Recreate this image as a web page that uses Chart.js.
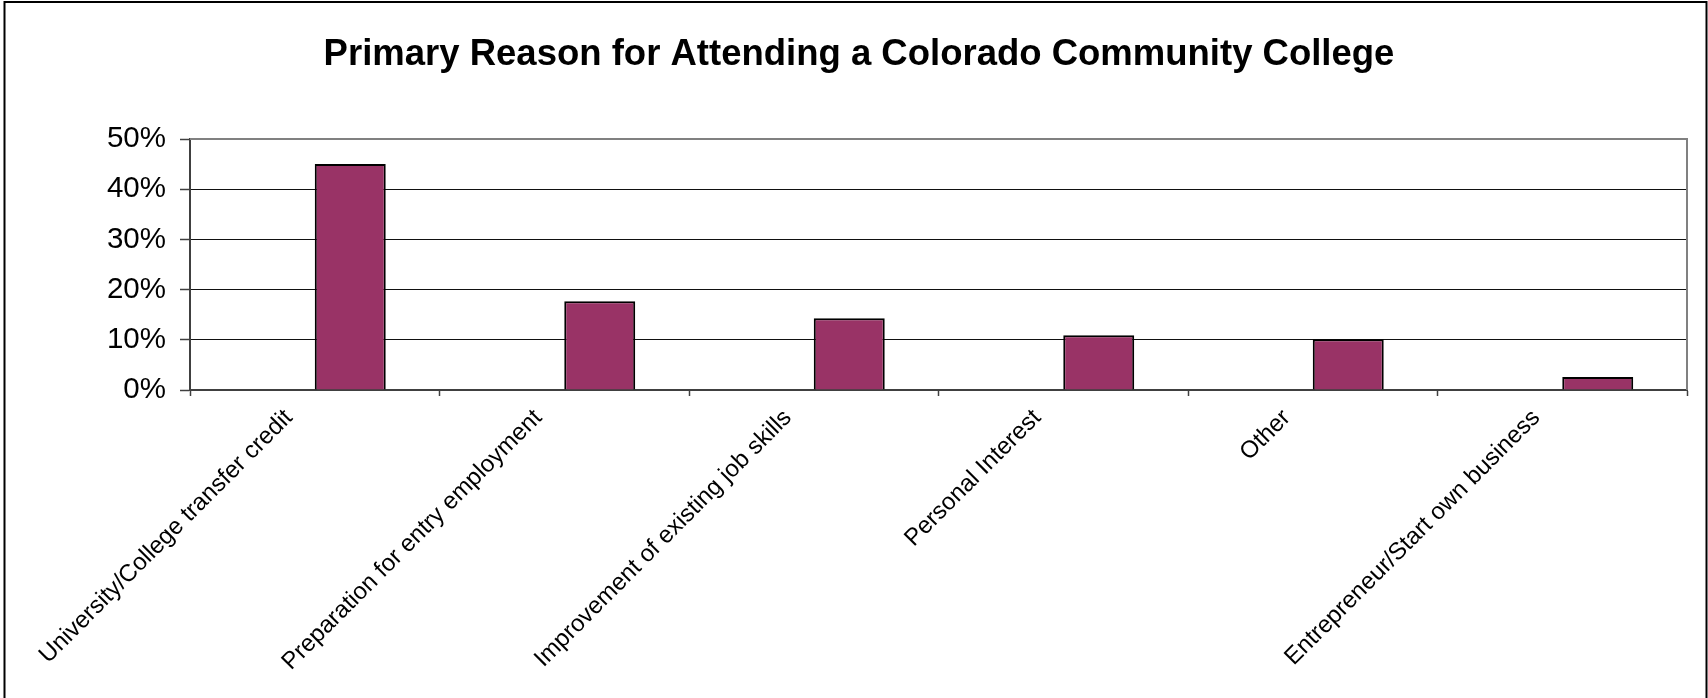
<!DOCTYPE html>
<html>
<head>
<meta charset="utf-8">
<title>Primary Reason for Attending a Colorado Community College</title>
<script src="https://cdn.jsdelivr.net/npm/chart.js@4/dist/chart.umd.min.js"></script>
<style>
  html, body { margin: 0; padding: 0; background: #ffffff; }
  canvas { display: block; }
</style>
</head>
<body>
<canvas id="chart" width="1708" height="698"></canvas>
<script>
// Survey categories and the share of students choosing each one (percent)
const categories = [
  "University/College transfer credit",
  "Preparation for entry employment",
  "Improvement of existing job skills",
  "Personal Interest",
  "Other",
  "Entrepreneur/Start own business"
];
const shareValues = [45.0, 17.7, 14.3, 10.9, 10.1, 2.6];
// Blank companion series that holds the left slot of every category
const blankSeries = [null, null, null, null, null, null];
const yTickValues = [0, 10, 20, 30, 40, 50];

const FONT = "'Liberation Sans', Arial, Helvetica, sans-serif";

// Outer chart border plus the grey top/right edges of the plot area
const framePlugin = {
  id: 'frame',
  beforeDraw(chart) {
    const ctx = chart.ctx;
    ctx.save();
    ctx.fillStyle = '#ffffff';
    ctx.fillRect(0, 0, chart.width, chart.height);
    ctx.strokeStyle = '#000000';
    ctx.lineWidth = 2;
    ctx.strokeRect(4.5, 2, 1702, chart.height + 20);
    ctx.restore();
  },
  afterDatasetsDraw(chart) {
    const { ctx, chartArea } = chart;
    ctx.save();
    ctx.strokeStyle = '#808080';
    ctx.lineWidth = 2;
    ctx.beginPath();
    ctx.moveTo(chartArea.left, chartArea.top);
    ctx.lineTo(chartArea.right, chartArea.top);
    ctx.lineTo(chartArea.right, chartArea.bottom);
    ctx.stroke();
    ctx.restore();
  }
};

new Chart(document.getElementById('chart'), {
  type: 'bar',
  data: {
    labels: categories,
    datasets: [
      {
        label: 'Blank',
        data: blankSeries,
        backgroundColor: '#993366',
        borderColor: '#000000',
        borderWidth: 2
      },
      {
        label: 'Primary reason',
        data: shareValues,
        backgroundColor: '#993366',
        borderColor: '#000000',
        borderWidth: 2
      }
    ]
  },
  options: {
    responsive: false,
    animation: false,
    events: [],
    layout: { padding: { left: 31, right: 21, top: 0, bottom: 0 } },
    datasets: {
      bar: { categoryPercentage: 0.569, barPercentage: 1.0 }
    },
    plugins: {
      legend: { display: false },
      tooltip: { enabled: false },
      title: {
        display: true,
        text: 'Primary Reason for Attending a Colorado Community College',
        color: '#000000',
        font: { family: FONT, size: 36.5, weight: 'bold' },
        padding: { top: 33, bottom: 62.2 }
      }
    },
    scales: {
      x: {
        grid: {
          offset: true,
          drawOnChartArea: false,
          drawTicks: true,
          tickLength: 6,
          tickColor: '#404040',
          tickWidth: 1.5
        },
        border: { display: true, color: '#404040', width: 2 },
        ticks: {
          autoSkip: false,
          minRotation: 45,
          maxRotation: 45,
          padding: 8,
          labelOffset: -26,
          color: '#000000',
          font: { family: FONT, size: 24 }
        },
        afterFit(scale) {
          scale.height = 308;
          scale.paddingLeft = 0;
          scale.paddingRight = 0;
        }
      },
      y: {
        min: 0,
        max: 50,
        afterBuildTicks(scale) {
          scale.ticks = yTickValues.map(v => ({ value: v }));
        },
        grid: {
          color: ctx => (ctx.tick && ctx.tick.value === 0) ? 'rgba(0,0,0,0)' : '#111111',
          lineWidth: 1,
          drawTicks: true,
          tickLength: 10,
          tickColor: '#404040',
          tickWidth: 1.5
        },
        border: { display: true, color: '#404040', width: 2 },
        ticks: {
          padding: 14,
          color: '#000000',
          font: { family: FONT, size: 29.5 },
          callback: v => v + '%'
        },
        afterFit(scale) {
          scale.width = 159;
          scale.paddingTop = 0;
          scale.paddingBottom = 0;
        }
      }
    }
  },
  plugins: [framePlugin]
});
</script>
</body>
</html>
